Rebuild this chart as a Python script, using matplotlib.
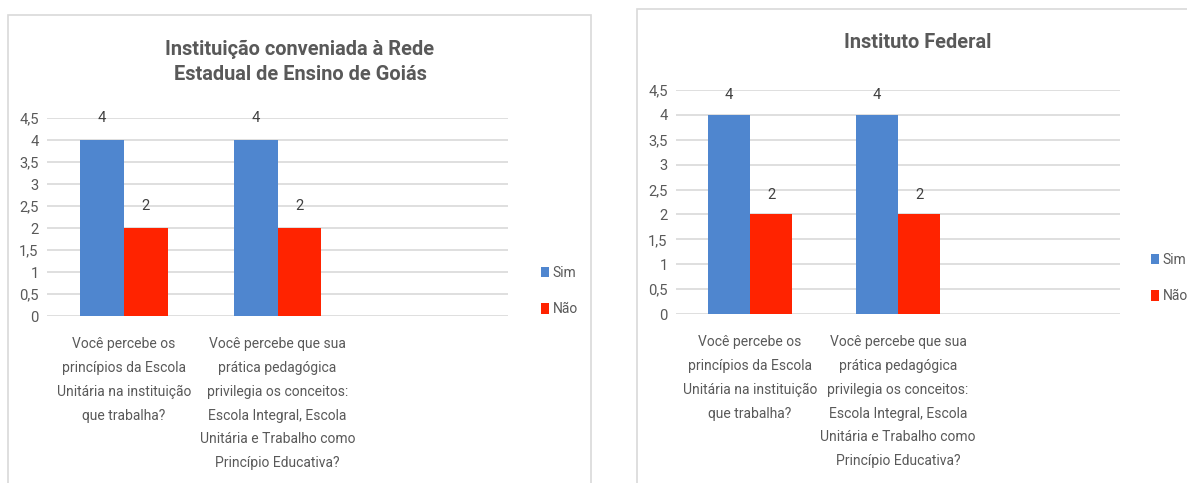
import matplotlib
matplotlib.use("Agg")
import matplotlib.pyplot as plt
from matplotlib import font_manager
from matplotlib.patches import Rectangle

# ---- data ----
categories = [
    "Você percebe os\nprincípios da Escola\nUnitária na instituição\nque trabalha?",
    "Você percebe que sua\nprática pedagógica\nprivilegia os conceitos:\nEscola Integral, Escola\nUnitária e Trabalho como\nPrincípio Educativa?",
    "",
]
series_names = ["Sim", "Não"]
left_sim = [4, 4]
left_nao = [2, 2]
right_sim = [4, 4]
right_nao = [2, 2]
left_title = "Instituição conveniada à Rede\nEstadual de Ensino de Goiás"
right_title = "Instituto Federal"
yticks = [0, 0.5, 1, 1.5, 2, 2.5, 3, 3.5, 4, 4.5]
ytick_labels = ["0", "0,5", "1", "1,5", "2", "2,5", "3", "3,5", "4", "4,5"]

# ---- font selection ----
available = {f.name for f in font_manager.fontManager.ttflist}
narrow = "Liberation Sans Narrow" in available
FONT = ["Liberation Sans Narrow", "DejaVu Sans"] if narrow else ["Roboto", "DejaVu Sans"]
scale = 1.0 if narrow else 0.85
plt.rcParams["font.family"] = FONT

BLUE = "#4f86cf"
RED = "#ff2300"
GRID = "#d9d9d9"
TXT = "#595959"

W, H = 1187, 483
fig = plt.figure(figsize=(W / 100, H / 100), dpi=100)
fig.patch.set_facecolor("white")

# panel borders
fig.patches.append(Rectangle((8 / W, -0.1), (591 - 8) / W, (H - 15) / H + 0.1,
                             transform=fig.transFigure, fill=False,
                             edgecolor="#d9d9d9", lw=1.2))
fig.patches.append(Rectangle((637 / W, -0.1), 0.5, (H - 9) / H + 0.1,
                             transform=fig.transFigure, fill=False,
                             edgecolor="#d9d9d9", lw=1.2))


def make_chart(x0, x1, ytop, ybot, sim, nao, title, tx, ty, legx, legy, lab_off):
    ax = fig.add_axes([x0 / W, (H - ybot) / H, (x1 - x0) / W, (ybot - ytop) / H])
    n = len(categories)
    idx = list(range(len(sim)))
    bw = 0.285
    b1 = ax.bar([i - bw / 2 for i in idx], sim, width=bw, color=BLUE, label=series_names[0], zorder=3)
    b2 = ax.bar([i + bw / 2 for i in idx], nao, width=bw, color=RED, label=series_names[1], zorder=3)
    for bars in (b1, b2):
        for r in bars:
            ax.annotate(f"{r.get_height():g}", (r.get_x() + r.get_width() / 2, r.get_height()),
                        xytext=(0, lab_off), textcoords="offset points", ha="center", va="center",
                        fontsize=12.5 * scale, color="#404040")
    ax.set_xlim(-0.5, n - 0.5)
    ax.set_ylim(0, 4.5)
    ax.set_yticks(yticks)
    ax.set_yticklabels(ytick_labels)
    ax.set_xticks(range(n))
    ax.set_xticklabels(categories, fontsize=10, color=TXT, linespacing=1.9)
    ax.tick_params(axis="x", length=0, pad=15)
    ax.tick_params(axis="y", length=0, pad=6, labelsize=12.5 * scale, labelcolor=TXT)
    ax.yaxis.grid(True, color=GRID, lw=1.2, zorder=0)
    ax.set_axisbelow(True)
    for s in ax.spines.values():
        s.set_visible(False)
    ax.set_facecolor("none")
    fig.text(tx / W, (H - ty) / H, title, ha="center", va="center", fontsize=17 * scale,
             color=TXT, fontweight="bold", linespacing=1.45)
    fig.legend(handles=[b1, b2], labels=series_names, loc="center left",
               bbox_to_anchor=(legx / W, (H - legy) / H), frameon=False,
               fontsize=10, labelcolor=TXT, handlelength=0.6, handleheight=0.8,
               handletextpad=0.25, labelspacing=1.6, borderpad=0)
    return ax


make_chart(47, 508, 118, 316, left_sim, left_nao, left_title, 300, 62, 534, 291, 16)
make_chart(676, 1120, 90, 314, right_sim, right_nao, right_title, 918, 43, 1144, 278, 14)

fig.savefig("out.png", dpi=100, facecolor="white")
